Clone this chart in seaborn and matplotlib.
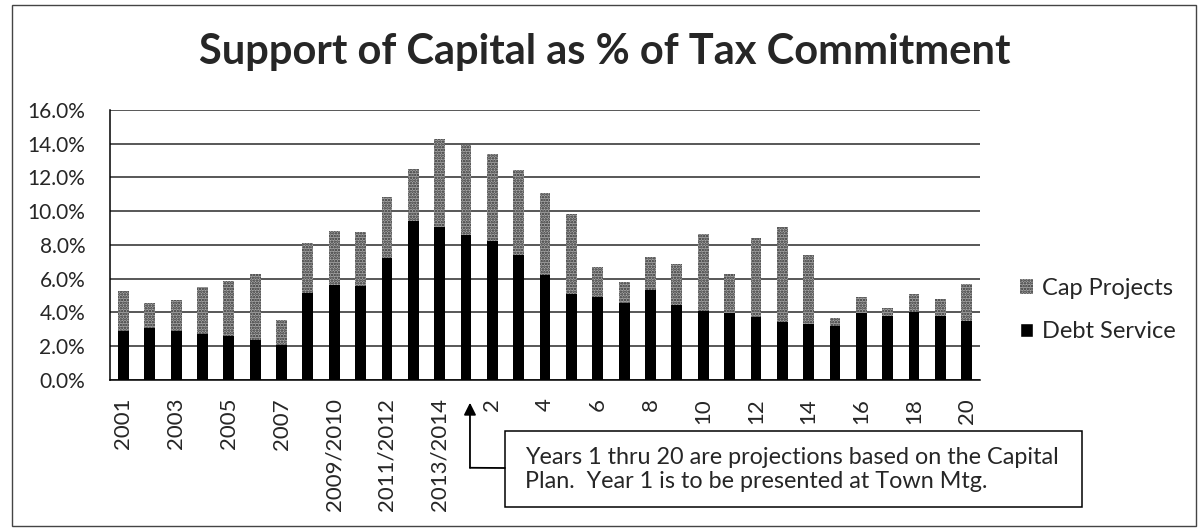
# Import libraries
import pandas as pd
import matplotlib.pyplot as plt
import seaborn as sns
from matplotlib.patches import Patch, Rectangle
from matplotlib.ticker import FuncFormatter, FixedLocator
import matplotlib.transforms as mtransforms

# Data (percent of tax commitment)
years = ['2001', '2002', '2003', '2004', '2005', '2006', '2007', '2008',
         '2009/2010', '2010/2011', '2011/2012', '2012/2013', '2013/2014'] + \
        [str(i) for i in range(1, 21)]
debt_service = [2.87, 3.07, 2.87, 2.71, 2.57, 2.34, 2.08, 5.15, 5.64, 5.54, 7.23, 9.41, 9.05,
                8.60, 8.21, 7.42, 6.22, 5.11, 4.91, 4.57, 5.31, 4.43, 4.08, 3.98,
                3.75, 3.45, 3.31, 3.21, 3.97, 3.77, 4.01, 3.77, 3.51]
cap_projects = [2.42, 1.48, 1.84, 2.79, 3.27, 3.92, 1.48, 2.97, 3.17, 3.21, 3.60, 3.12, 5.21,
                5.30, 5.21, 5.01, 4.87, 4.73, 1.81, 1.22, 1.99, 2.43, 4.57, 2.32,
                4.66, 5.62, 4.11, 0.44, 0.93, 0.50, 1.09, 1.03, 2.18]

df = pd.DataFrame({'Year': years, 'Debt Service': debt_service, 'Cap Projects': cap_projects})
df['Total'] = df['Debt Service'] + df['Cap Projects']

# Set up the plot style
sns.set_style("white")
plt.rcParams['font.family'] = ['Lato', 'DejaVu Sans']
plt.rcParams['hatch.linewidth'] = 1.2

fig = plt.figure(figsize=(11.98, 5.29), dpi=100)
ax = fig.add_axes([0.092, 0.282, 0.726, 0.510])

stipple_face = '#a8a8a8'
stipple_dots = '#2e2e2e'

# Stacked bars: total (stippled) then debt service (black) on top
sns.barplot(data=df, x='Year', y='Total', order=years, color=stipple_face, width=0.41,
            saturation=1, ax=ax, hatch='......', edgecolor=stipple_dots, linewidth=0, zorder=3)
sns.barplot(data=df, x='Year', y='Debt Service', order=years, color='black', width=0.41,
            saturation=1, ax=ax, linewidth=0, zorder=4)

# Axes formatting
ax.set_ylim(0, 16)
ax.set_xlim(-0.5, len(years) - 0.5)
ax.set_yticks(range(0, 17, 2))
ax.yaxis.set_major_formatter(FuncFormatter(lambda v, p: f"{v:.1f}%"))
ax.grid(axis='y', color='#2a2a2a', linewidth=1.1, zorder=0)
ax.set_axisbelow(True)
ax.set_xlabel('')
ax.set_ylabel('')

ax.set_xticks(range(len(years)))
ax.set_xticklabels([y if i % 2 == 0 else '' for i, y in enumerate(years)],
                   rotation=90, fontsize=16)
ax.xaxis.set_minor_locator(FixedLocator([i - 0.5 for i in range(len(years) + 1)]))
ax.tick_params(axis='x', which='major', length=0, pad=13)
ax.tick_params(axis='x', which='minor', length=6, width=1, color='black', direction='out')
ax.tick_params(axis='y', length=7, width=1, color='black', direction='out', pad=11, labelsize=15)

for side in ['top', 'right']:
    ax.spines[side].set_visible(False)
for side in ['left', 'bottom']:
    ax.spines[side].set_color('black')
    ax.spines[side].set_linewidth(1.1)

# Title
fig.text(0.505, 0.902, "Support of Capital as % of Tax Commitment", ha='center', va='center',
         fontsize=30, fontweight='bold')

# Legend
legend_elements = [Patch(facecolor=stipple_face, hatch='......', edgecolor=stipple_dots,
                         linewidth=0, label='Cap Projects'),
                   Patch(facecolor='black', label='Debt Service')]
fig.legend(handles=legend_elements, loc='center left', bbox_to_anchor=(0.834, 0.414),
           frameon=False, fontsize=17, handlelength=0.55, handleheight=0.55,
           handletextpad=0.35, labelspacing=0.95)

# Note box with arrow pointing to Year 1
fig.patches.append(Rectangle((0.4215, 0.041), 0.482, 0.144, transform=fig.transFigure,
                             fill=False, edgecolor='black', linewidth=1.1))
fig.text(0.438, 0.112, "Years 1 thru 20 are projections based on the Capital\n"
         "Plan.  Year 1 is to be presented at Town Mtg.", ha='left', va='center',
         fontsize=16.8, linespacing=1.2)
trans = mtransforms.blended_transform_factory(ax.transData, ax.transAxes)
yr1 = years.index('1')
ax.annotate('', xy=(yr1 + 0.15, -0.085), xycoords=trans,
            xytext=(yr1 + 0.15, -0.326), textcoords=trans,
            arrowprops=dict(arrowstyle='-|>', color='black', lw=1.3, mutation_scale=18,
                            shrinkA=0, shrinkB=0), annotation_clip=False)
ax.annotate('', xy=(yr1 + 0.15, -0.326), xycoords=trans,
            xytext=(0.4215, 0.1153), textcoords='figure fraction',
            arrowprops=dict(arrowstyle='-', color='black', lw=1.3, shrinkA=0, shrinkB=0),
            annotation_clip=False)

# Outer chart border
fig.patches.append(Rectangle((0.010, 0.006), 0.988, 0.985, transform=fig.transFigure,
                             fill=False, edgecolor='#444444', linewidth=1.0))

# Save the plot
plt.savefig('out.png', dpi=100)
